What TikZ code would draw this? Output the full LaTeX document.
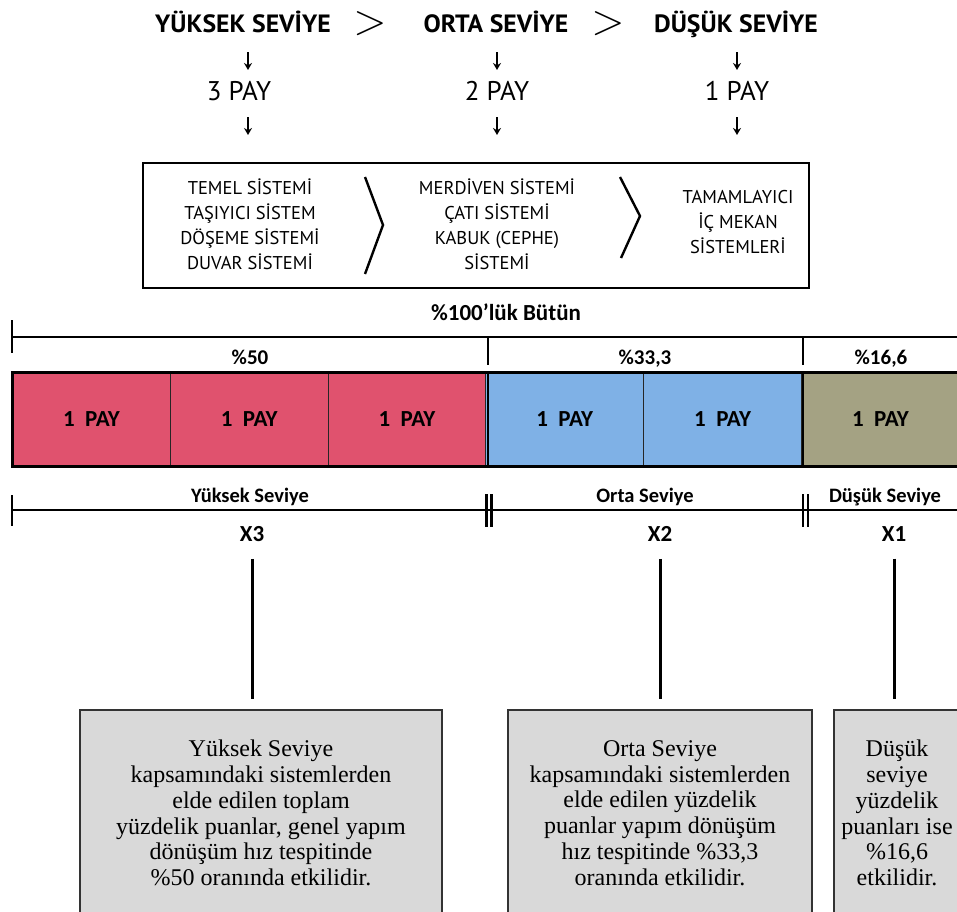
\documentclass[tikz,border=0pt]{standalone}
\usepackage{fontspec}
\setmainfont{Liberation Serif}
\newfontfamily\capsfont{PT Sans}
\newfontfamily\headfont[FakeStretch=1.03]{PT Sans}
\newfontfamily\barfont{Carlito}
\usetikzlibrary{arrows.meta}

\definecolor{payred}{RGB}{224,82,110}
\definecolor{payblue}{RGB}{127,177,230}
\definecolor{payolive}{RGB}{164,162,131}
\definecolor{notegray}{RGB}{217,217,217}

\tikzset{
  level/.style = {font=\headfont\bfseries\fontsize{25}{30}\selectfont, inner sep=0pt, anchor=base},
  gt/.style = {font=\fontsize{24}{28}\selectfont, inner sep=0pt},
  share/.style = {font=\capsfont\fontsize{27}{30}\selectfont, inner sep=0pt, anchor=base},
  syslist/.style = {font=\capsfont\fontsize{18.5}{25}\selectfont, align=center, inner sep=0pt},
  down/.style = {-{Stealth[length=7pt, width=8pt]}, line width=1.5pt},
  cell/.style = {draw=black!85, line width=1pt, anchor=north west, minimum width=157.8pt, minimum height=94pt, inner sep=0pt,
                 font=\barfont\bfseries\fontsize{23}{26}\selectfont},
  pct/.style = {font=\barfont\bfseries\fontsize{21}{24}\selectfont, inner sep=0pt, anchor=base},
  big/.style = {font=\barfont\bfseries\fontsize{23}{26}\selectfont, inner sep=0pt},
  span/.style = {font=\barfont\bfseries\fontsize{20.5}{24}\selectfont, inner sep=0pt, anchor=base},
  dim/.style = {line width=2.6pt},
  stem/.style = {line width=3pt},
  note/.style = {draw=black!80, line width=1.6pt, fill=notegray, align=center, inner sep=0pt,
                 font=\fontsize{24}{25.8}\selectfont}
}

\begin{document}
\begin{tikzpicture}[x = 1pt, y = -1pt]
\useasboundingbox (0, 0) rectangle (957, 911);

% levels and their shares
\node[level] (yuksek) at (243, 32) {YÜKSEK SEVİYE};
\node[gt] (gt1) at (370, 24) {\scalebox{1.75}{$>$}};
\node[level] (orta) at (496, 32) {ORTA SEVİYE};
\node[gt] (gt2) at (608, 24) {\scalebox{1.75}{$>$}};
\node[level] (dusuk) at (736, 32) {DÜŞÜK SEVİYE};

\node[share] (pay3) at (239, 100) {3 PAY};
\node[share] (pay2) at (497, 100) {2 PAY};
\node[share] (pay1) at (737, 100) {1 PAY};

% systems box
\node[draw, line width=2pt, anchor=north west, minimum width=666pt, minimum height=125pt] (sysbox) at (142, 162) {};
\node[syslist] (sys3) at (250, 224.5) {TEMEL SİSTEMİ\\TAŞIYICI SİSTEM\\DÖŞEME SİSTEMİ\\DUVAR SİSTEMİ};
\node[syslist] (sys2) at (497, 224.5) {MERDİVEN SİSTEMİ\\ÇATI SİSTEMİ\\KABUK (CEPHE)\\SİSTEMİ};
\node[syslist] (sys1) at (738, 222) {TAMAMLAYICI\\İÇ MEKAN\\SİSTEMLERİ};
\draw[line width=2.4pt] (365, 177) -- (383, 225) -- (365, 274);
\draw[line width=2.4pt] (620, 177) -- (640, 216) -- (621, 258);

\foreach \a/\b/\c in {yuksek/pay3/248, orta/pay2/497, dusuk/pay1/737} {
  \draw[down] (\c, 0 |- \a.base) ++(0, 20) -- ++(0, 18);
  \draw[down] (\c, 0 |- \b.base) ++(0, 17) -- ++(0, 18);
}

% whole and parts
\node[big] (butun) at (506, 312) {\%100’lük Bütün};
\draw[dim] (12, 337) -- (962, 337);
\draw[dim] (12, 320) -- (12, 353);
\draw[dim] (488, 337) -- (488, 365);
\draw[dim] (803, 337) -- (803, 365);
\node[pct] (p50) at (250, 364) {\%50};
\node[pct] (p33) at (645, 364) {\%33,3};
\node[pct] (p16) at (881, 364) {\%16,6};

% the six shares
\foreach \i/\c in {0/payred, 1/payred, 2/payred, 3/payblue, 4/payblue, 5/payolive}
  \node[cell, fill=\c] (cell\i) at ({12 + 157.8*\i}, 372) {1~~PAY};
\draw[line width=1.8pt] (488, 372) -- (488, 466);
\draw[line width=1.8pt] (803, 372) -- (803, 466);
\draw[line width=3pt] (12, 372) rectangle (965, 466);

% level spans
\draw[dim] (12, 510) -- (962, 510);
\draw[dim] (12, 495) -- (12, 526);
\draw[dim] (486.5, 494) -- (486.5, 527);
\draw[dim] (491.5, 494) -- (491.5, 527);
\draw[dim] (803, 494) -- (803, 527);
\draw[dim] (808, 494) -- (808, 527);
\node[span] (yspan) at (250, 502) {Yüksek Seviye};
\node[span] (ospan) at (645, 502) {Orta Seviye};
\node[span] (dspan) at (885, 502) {Düşük Seviye};
\node[big] (x3) at (252, 534) {X3};
\node[big] (x2) at (660, 534) {X2};
\node[big] (x1) at (894, 534) {X1};

% notes
\node[note, minimum width=362pt, minimum height=206pt] (note3) at (261, 813)
  {Yüksek Seviye\\kapsamındaki sistemlerden\\elde edilen toplam\\yüzdelik puanlar, genel yapım\\dönüşüm hız tespitinde\\\%50 oranında etkilidir.};
\node[note, minimum width=304pt, minimum height=206pt] (note2) at (660, 813)
  {Orta Seviye\\kapsamındaki sistemlerden\\elde edilen yüzdelik\\puanlar yapım dönüşüm\\hız tespitinde \%33,3\\oranında etkilidir.};
\node[note, minimum width=126pt, minimum height=206pt] (note1) at (897, 813)
  {Düşük\\seviye\\yüzdelik\\puanları ise\\\%16,6\\etkilidir.};

\foreach \a/\b in {x3/note3, x2/note2, x1/note1}
  \draw[stem, shorten <=17pt, shorten >=10pt] (\a) -- (\a |- \b.north);
\end{tikzpicture}
\end{document}
